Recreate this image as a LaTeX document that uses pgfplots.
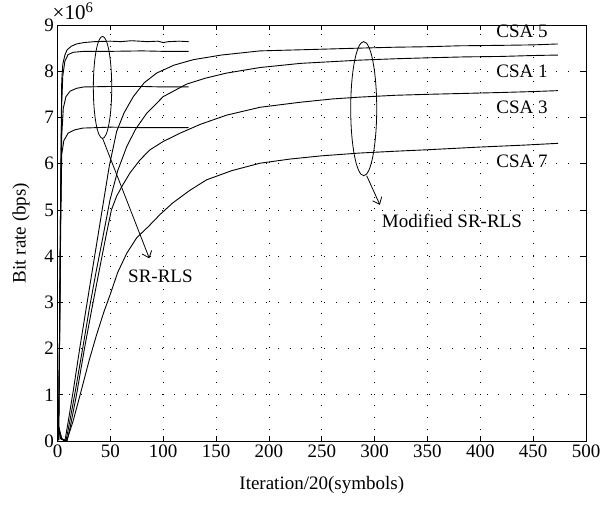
\documentclass[border=0pt]{standalone}
\usepackage{fontspec}
\setmainfont{Liberation Serif}
\usepackage{pgfplots}
\pgfplotsset{compat=1.18}
\usetikzlibrary{arrows.meta}

\begin{document}
\begin{tikzpicture}
\useasboundingbox (-57.5pt,-66pt) rectangle (543.5pt,441pt);
\begin{axis}[
    at={(0,0)}, anchor=south west,
    scale only axis,
    width=528.5pt, height=416pt,
    xmin=0, xmax=500, ymin=0, ymax=9,
    xtick={0,50,...,500},
    ytick={0,1,...,9},
    scaled y ticks=false,
    tick align=inside,
    major tick length=5pt,
    grid=major,
    major grid style={black, line width=0.7pt, dash pattern=on 0.8pt off 10.8pt},
    axis line style={line width=0.7pt},
    every tick/.style={black, line width=0.7pt},
    font=\fontsize{19}{22}\selectfont,
    /pgf/number format/assume math mode=true,
    xlabel={Iteration/20(symbols)},
    ylabel={Bit rate (bps)},
    xlabel style={yshift=-12pt},
    ylabel style={yshift=8pt},
    clip=false,
    every axis plot post/.append style={black, solid, line width=0.9pt, mark=none},
]
% SR-RLS, CSA 5
\addplot coordinates {(0,0.35)(1,0.02)(2,2.5)(3,5.5)(4,7.8)(5,8.15)(7,8.35)(9,8.46)(13,8.54)(18,8.59)(25,8.62)(35,8.64)(50,8.65)(60,8.64)(70,8.66)(85,8.64)(95,8.65)(100,8.62)(105,8.64)(115,8.65)(124,8.64)};
% SR-RLS, CSA 1
\addplot coordinates {(0,0.35)(1,0.02)(2,2.5)(3,5.4)(4,7.3)(5,7.9)(7,8.22)(10,8.36)(15,8.41)(25,8.43)(50,8.43)(80,8.44)(100,8.43)(124,8.43)};
% SR-RLS, CSA 3
\addplot coordinates {(0,0.35)(1,0.02)(2,2.3)(3,5.0)(4,6.6)(5.5,7.2)(8,7.45)(12,7.57)(18,7.63)(25,7.66)(50,7.67)(80,7.67)(100,7.66)(124,7.66)};
% SR-RLS, CSA 7
\addplot coordinates {(0,0.35)(1,0.02)(2,2.2)(3,4.6)(4,6.2)(6,6.5)(10,6.66)(16,6.73)(24,6.77)(50,6.79)(80,6.78)(100,6.78)(124,6.78)};
% Modified SR-RLS, CSA 5
\addplot coordinates {(0,0.4)(3,0.05)(7,0)(10,0.4)(15,1.1)(21,2.0)(27,2.85)(33,3.7)(38,4.4)(43.3,5.15)(49,5.95)(56,6.7)(63,7.1)(71.7,7.45)(82,7.75)(93.8,7.96)(110,8.13)(128.5,8.25)(155,8.35)(191.6,8.44)(240,8.47)(286,8.5)(320,8.52)(350,8.53)(380,8.55)(420,8.56)(450,8.57)(473.5,8.59)};
% Modified SR-RLS, CSA 1
\addplot coordinates {(0,0.4)(3,0.05)(8,0)(11,0.35)(17,1.1)(23.8,2.0)(30,2.85)(36,3.6)(42,4.3)(49.7,5.22)(57,5.85)(65.5,6.37)(74,6.75)(84.4,7.09)(100,7.45)(122,7.72)(140,7.85)(160,7.96)(191.6,8.08)(230,8.17)(286,8.24)(320,8.27)(350,8.29)(385,8.31)(420,8.32)(450,8.34)(473.5,8.35)};
% Modified SR-RLS, CSA 3
\addplot coordinates {(0,0.4)(4,0.05)(9,0)(12,0.3)(18,1.0)(25.5,2.0)(32,2.8)(40,3.75)(46,4.45)(51,5.0)(56,5.3)(62,5.55)(68.6,5.8)(78,6.08)(87.5,6.3)(100,6.48)(116,6.66)(135,6.85)(160,7.05)(191.6,7.22)(230,7.33)(260,7.4)(286,7.44)(320,7.48)(350,7.5)(385,7.52)(420,7.54)(450,7.56)(473.5,7.58)};
% Modified SR-RLS, CSA 7
\addplot coordinates {(0,0.4)(4,0.05)(8.7,0)(15,0.45)(22,1.05)(30,1.75)(37,2.3)(44,2.8)(49.7,3.16)(57,3.65)(65.5,4.06)(75,4.4)(86,4.64)(97,4.9)(109,5.15)(125,5.42)(141,5.65)(165,5.85)(191.6,6.01)(220,6.1)(250,6.17)(286,6.23)(320,6.27)(349,6.3)(400,6.36)(440,6.4)(473.5,6.44)};

% annotations
\draw[line width=0.8pt] (axis cs:42.6,7.65) ellipse [x radius=9.2pt, y radius=51pt];
\draw[line width=0.8pt] (axis cs:289.7,7.19) ellipse [x radius=13pt, y radius=67pt];
\draw[line width=0.8pt, -{Straight Barb[length=6pt,width=10pt]}] (axis cs:42.6,6.55) -- (axis cs:86.9,3.95);
\draw[line width=0.8pt, -{Straight Barb[length=6pt,width=10pt]}] (axis cs:292.5,5.74) -- (axis cs:305,5.11);
\node[anchor=west, inner sep=0pt] at (axis cs:66.7,3.57) {SR-RLS};
\node[anchor=west, inner sep=0pt] at (axis cs:306.8,4.76) {Modified SR-RLS};
\node[inner sep=0pt] at (axis cs:439.5,8.87) {CSA 5};
\node[inner sep=0pt] at (axis cs:439.5,7.99) {CSA 1};
\node[inner sep=0pt] at (axis cs:439.5,7.21) {CSA 3};
\node[inner sep=0pt] at (axis cs:439.5,6.05) {CSA 7};
\node[anchor=south west, inner sep=0pt, font=\fontsize{21}{24}\selectfont] at ([xshift=-5pt,yshift=5pt]rel axis cs:0,1) {×10\textsuperscript{6}};
\end{axis}
\end{tikzpicture}
\end{document}
